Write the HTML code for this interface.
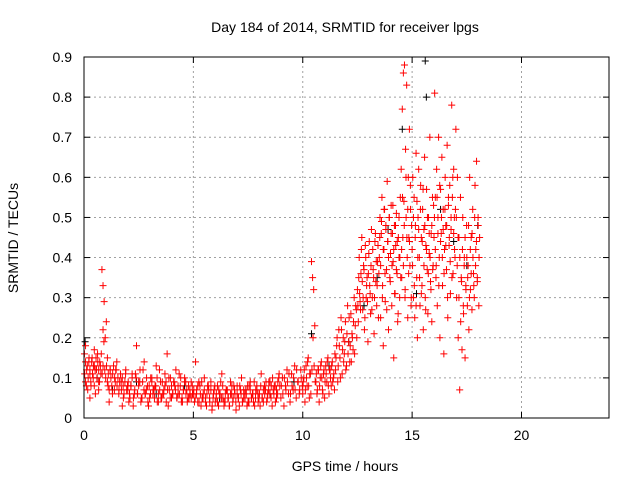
<!DOCTYPE html>
<html><head><meta charset="utf-8"><style>
body{margin:0;background:#fff;}
svg{display:block;font-family:"Liberation Sans",sans-serif;}
</style></head><body>
<svg id="chart" width="640" height="480">
<text x="345" y="32" font-size="14" text-anchor="middle">Day 184 of 2014, SRMTID for receiver lpgs</text>
<text x="345" y="471" font-size="14" text-anchor="middle">GPS time / hours</text>
<text transform="translate(18,238) rotate(-90)" font-size="14" text-anchor="middle">SRMTID / TECUs</text>
<g id="grid"></g><g id="ticks"></g><g id="pts"></g>
<rect x="84" y="57" width="525" height="361" fill="none" stroke="#000" stroke-width="1"/>
</svg>
<script>
const xTicks=[0,5,10,15,20];
const yTicks=[0,0.1,0.2,0.3,0.4,0.5,0.6,0.7,0.8,0.9];
const redStart=[0.02,0.07,1.1,1.15,2.0,2.05,5.0,5.05,9.0,10.0,11.5,12.5,13.5,14.5,15.0,16.0,17.0,
 0.03,2.02,5.02,9.02,10.02,11.52,12.52,13.52,14.52,15.02,16.02,17.02];
const redStep=[0.05,0.2,0.1,0.3,0.1,0.1,0.1,0.1,0.07,0.05,0.05,0.04,0.03,0.025,0.03,0.03,0.035,
 0.04,0.06,0.06,0.07,0.05,0.05,0.04,0.04,0.04,0.04,0.04,0.04];
const redValues=[
[0.16,0.09,0.12,0.07,0.14,0.11,0.08,0.15,0.1,0.13,0.06,0.12,0.16,0.09,0.14,0.11,0.37,0.33,0.29,0.2,0.24,0.15],
[0.18,0.05,0.17,0.07,0.13],
[0.08,0.12,0.06,0.1,0.14,0.07,0.09,0.05,0.11,0.08],
[0.04,0.12,0.03],
[0.07,0.05,0.1,0.06,0.18,0.09,0.04,0.12,0.06,0.08,0.05,0.1,0.07,0.13,0.04,0.09,0.06,0.11,0.16,0.07,0.05,0.09,0.12,0.06,0.08,0.04,0.1,0.07,0.05,0.09],
[0.04,0.08,0.03,0.11,0.06,0.09,0.05,0.14,0.07,0.03,0.1,0.06,0.08,0.04,0.12,0.05,0.07,0.09,0.03,0.1,0.06,0.08,0.05,0.11,0.04,0.07,0.09,0.05,0.06,0.08],
[0.06,0.14,0.04,0.08,0.05,0.1,0.03,0.07,0.09,0.05,0.04,0.08,0.06,0.11,0.03,0.07,0.05,0.09,0.04,0.06,0.08,0.03,0.1,0.05,0.07,0.04,0.09,0.06,0.03,0.08,0.05,0.11,0.04,0.07,0.06,0.09,0.03,0.08,0.05,0.1],
[0.04,0.07,0.09,0.03,0.06,0.05,0.08,0.04,0.02,0.07,0.06,0.03,0.09,0.05,0.04,0.07,0.03,0.06,0.08,0.02,0.05,0.07,0.04,0.06,0.03,0.08,0.05,0.04,0.07,0.06,0.03,0.05,0.08,0.04,0.09,0.05,0.07,0.04,0.06,0.08],
[0.05,0.1,0.03,0.08,0.12,0.06,0.04,0.11,0.07,0.13,0.05,0.09,0.06,0.12,0.08],
[0.06,0.1,0.04,0.13,0.08,0.15,0.05,0.11,0.39,0.35,0.32,0.23,0.09,0.06,0.12,0.04,0.1,0.14,0.07,0.11,0.05,0.13,0.09,0.15,0.06,0.12,0.08,0.14,0.1,0.07],
[0.12,0.18,0.09,0.22,0.15,0.25,0.11,0.2,0.16,0.24,0.13,0.28,0.19,0.14,0.26,0.21,0.17,0.3,0.23,0.27],
[0.32,0.24,0.4,0.29,0.36,0.45,0.27,0.38,0.22,0.43,0.3,0.35,0.19,0.41,0.33,0.26,0.47,0.3,0.37,0.21,0.44,0.34,0.28,0.39,0.25],
[0.4,0.5,0.25,0.46,0.55,0.33,0.18,0.42,0.52,0.29,0.48,0.37,0.59,0.44,0.22,0.5,0.35,0.41,0.53,0.28,0.46,0.39,0.15,0.48,0.31,0.43,0.51,0.36,0.24,0.45,0.4,0.3,0.55],
[0.62,0.35,0.77,0.45,0.86,0.54,0.88,0.3,0.67,0.5,0.83,0.4,0.25,0.6,0.45,0.72,0.38,0.52,0.28,0.48],
[0.42,0.6,0.3,0.55,0.25,0.48,0.66,0.35,0.2,0.5,0.62,0.4,0.28,0.58,0.45,0.33,0.52,0.22,0.47,0.65,0.3,0.43,0.57,0.37,0.26,0.5,0.41,0.7,0.34,0.46,0.24,0.55,0.38],
[0.45,0.81,0.55,0.35,0.62,0.28,0.5,0.7,0.4,0.2,0.57,0.46,0.65,0.33,0.52,0.16,0.42,0.6,0.48,0.37,0.68,0.25,0.53,0.43,0.58,0.31,0.47,0.78,0.55,0.36,0.62,0.5,0.4],
[0.72,0.3,0.6,0.2,0.45,0.07,0.55,0.35,0.17,0.5,0.26,0.4,0.15,0.33,0.48,0.28,0.38,0.22,0.6,0.32,0.45,0.27,0.52,0.36,0.3,0.58,0.42,0.64,0.35,0.5,0.28,0.45],
[0.11,0.14,0.08,0.13,0.1,0.15,0.12,0.09,0.14,0.11,0.13,0.08,0.12,0.15,0.1,0.14,0.12,0.09,0.13,0.16,0.11,0.22,0.19,0.12,0.1,0.13,0.09,0.11,0.07,0.12,0.1,0.08,0.11,0.13,0.07,0.09,0.12,0.08,0.1,0.06,0.09,0.11,0.07,0.1,0.08,0.06,0.09,0.12,0.07,0.08],
[0.09,0.06,0.08,0.11,0.05,0.07,0.1,0.06,0.08,0.12,0.05,0.09,0.07,0.06,0.1,0.04,0.08,0.06,0.09,0.07,0.05,0.08,0.1,0.06,0.07,0.05,0.09,0.06,0.08,0.04,0.07,0.1,0.05,0.08,0.06,0.09,0.07,0.05,0.08,0.06,0.1,0.05,0.07,0.09,0.06,0.04,0.08,0.07,0.05,0.06],
[0.07,0.05,0.06,0.08,0.04,0.06,0.09,0.05,0.07,0.04,0.06,0.08,0.05,0.07,0.03,0.06,0.08,0.05,0.04,0.07,0.06,0.05,0.08,0.04,0.06,0.07,0.05,0.03,0.06,0.08,0.05,0.07,0.04,0.06,0.05,0.08,0.06,0.04,0.07,0.05,0.06,0.08,0.04,0.07,0.05,0.06,0.09,0.05,0.07,0.04,0.06,0.08,0.05,0.07,0.06,0.09,0.05,0.07,0.06,0.08,0.1,0.06,0.08,0.07,0.09,0.11],
[0.08,0.06,0.1,0.07,0.09,0.11,0.06,0.08,0.1,0.07,0.12,0.09,0.07,0.1,0.08],
[0.09,0.12,0.07,0.1,0.14,0.08,0.11,0.06,0.12,0.2,0.13,0.09,0.11,0.07,0.12,0.08,0.13,0.1,0.06,0.12,0.09,0.11,0.14,0.08,0.12,0.1,0.13,0.09,0.11,0.16],
[0.15,0.2,0.13,0.18,0.1,0.22,0.17,0.14,0.19,0.12,0.21,0.16,0.25,0.18,0.14,0.2,0.24,0.16,0.28,0.2],
[0.28,0.35,0.31,0.27,0.42,0.34,0.3,0.37,0.25,0.4,0.33,0.29,0.36,0.44,0.31,0.38,0.27,0.42,0.35,0.3,0.46,0.39,0.33,0.43,0.36],
[0.45,0.38,0.49,0.3,0.42,0.52,0.36,0.47,0.27,0.44,0.4,0.5,0.34,0.46,0.38,0.53,0.42,0.31,0.48,0.37,0.44,0.26,0.5,0.4,0.35],
[0.42,0.55,0.38,0.48,0.32,0.6,0.45,0.52,0.36,0.44,0.58,0.3],
[0.38,0.5,0.33,0.45,0.28,0.54,0.4,0.47,0.35,0.52,0.31,0.44,0.57,0.38,0.48,0.27,0.42,0.5,0.36,0.46,0.4,0.32,0.48,0.37,0.53],
[0.5,0.42,0.38,0.55,0.46,0.33,0.58,0.44,0.5,0.4,0.47,0.36,0.52,0.43,0.48,0.3,0.55,0.45,0.39,0.5,0.35,0.6,0.46,0.42,0.52],
[0.5,0.38,0.45,0.3,0.4,0.24,0.34,0.42,0.28,0.38,0.45,0.32,0.4,0.35,0.48,0.3,0.42,0.36,0.46,0.4,0.33,0.5,0.38,0.44,0.34,0.48,0.4]
];
const blackTimes=[0.05,0.6,1.3,2.4,3.3,4.6,6.2,7.4,8.5,9.6,10.4,11.2,12.1,12.8,13.4,13.9,14.4,14.55,15.2,15.6,15.65,16.3,16.9,17.5,18.0];
const blackValues=[0.19,0.1,0.07,0.09,0.06,0.08,0.05,0.07,0.06,0.09,0.21,0.13,0.19,0.28,0.35,0.47,0.4,0.72,0.31,0.89,0.8,0.52,0.44,0.38,0.48];

const X0=84,X1=609,Y0=418,Y1=57;
const xs=t=>X0+t/24*(X1-X0);
const ys=v=>Y0-v/0.9*(Y0-Y1);
const NS='http://www.w3.org/2000/svg';
const grid=document.getElementById('grid'),ticks=document.getElementById('ticks'),pts=document.getElementById('pts');
function mk(tag,attrs,parent){const e=document.createElementNS(NS,tag);for(const k in attrs)e.setAttribute(k,attrs[k]);parent.appendChild(e);return e;}
xTicks.forEach(t=>{const x=xs(t);
 if(t>0){const g=mk('line',{x1:x,x2:x,y1:Y0,y2:Y1,stroke:'#a0a0a0','stroke-dasharray':'2,3'},grid);
 
 }
 mk('line',{x1:x,x2:x,y1:Y0,y2:Y0-6,stroke:'#000'},ticks);
 mk('line',{x1:x,x2:x,y1:Y1,y2:Y1+6,stroke:'#000'},ticks);
 const l=mk('text',{x:x,y:Y0+22,'font-size':14,'text-anchor':'middle'},ticks);l.textContent=t;
 
 });
yTicks.forEach(v=>{const y=ys(v);
 if(v>0&&v<0.9){const g=mk('line',{x1:X0,x2:X1,y1:y,y2:y,stroke:'#a0a0a0','stroke-dasharray':'2,3'},grid);
 
 }
 mk('line',{x1:X0,x2:X0+6,y1:y,y2:y,stroke:'#000'},ticks);
 mk('line',{x1:X1,x2:X1-6,y1:y,y2:y,stroke:'#000'},ticks);
 const l=mk('text',{x:X0-12,y:y+5,'font-size':14,'text-anchor':'end'},ticks);l.textContent=String(Math.round(v*10)/10);
 
 });
function plus(t,v,col,name){const x=xs(t),y=ys(v);
 const p=mk('path',{d:`M${x-3.5} ${y}h7M${x} ${y-3.5}v7`,stroke:col,'stroke-width':1,fill:'none'},pts);
 
 }
blackTimes.forEach((t,i)=>plus(t,blackValues[i],'#000','black-point'));
redValues.forEach((vals,s)=>vals.forEach((v,i)=>plus(redStart[s]+i*redStep[s],v,'#ff0000','red-point')));
</script>
</body></html>
